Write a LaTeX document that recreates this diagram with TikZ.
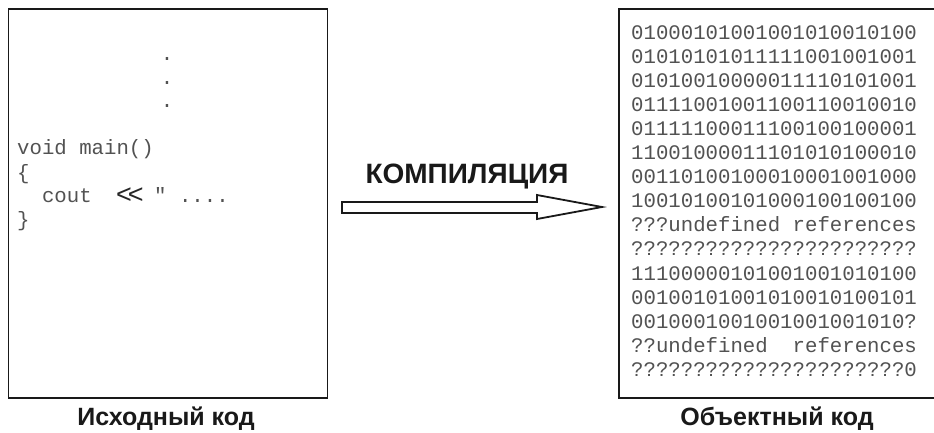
\documentclass[tikz,border=0pt]{standalone}
\usepackage{fontspec}
\usetikzlibrary{calc}
\setmainfont{Liberation Sans}
\newfontfamily\codefont{Liberation Mono}
\begin{document}
\begin{tikzpicture}[x=1pt,y=-1pt,
  panel/.style={draw=black!90, line width=1.8pt, anchor=north west, inner sep=0pt},
  code/.style={anchor=base west, inner sep=0pt, text=black!68,
    font=\codefont\fontsize{20.7}{24}\selectfont},
  caption/.style={anchor=base, inner sep=0pt, text=black!90,
    font=\bfseries\fontsize{25}{25}\selectfont},
  blockarrow/.style={draw=black!90, line width=1.8pt, fill=white, line join=miter}]
\useasboundingbox (0,0) rectangle (934,432);
\clip (0,0) rectangle (934,432);

% source code panel
\node[panel, minimum width=319pt, minimum height=389pt] (src) at (7.5,8) {};
\node[code, anchor=base] (d1) at (167,60) {.};
\node[code, anchor=base] (d2) at (167,84) {.};
\node[code, anchor=base] (d3) at (167,107) {.};
\node[code] (s1) at (17,154) {void main()};
\node[code] (s2) at (17,179) {\{};
\node[code] (s3) at (17,202) {\ \ cout};
\node[anchor=base west, inner sep=0pt, text=black!85,
  font=\fontsize{27}{27}\selectfont] (shl) at (116,203) {<\kern-4pt<};
\node[code] (s4) at (154,202) {" ....};
\node[code] (s5) at (17,226) {\}};
\node[caption] (srccap) at (166,425) {Исходный код};

% object code panel (runs past the right edge)
\node[panel, minimum width=340pt, minimum height=389pt] (obj) at (618,8) {};
\foreach \t [count=\i from 0] in {
  01000101001001010010100,
  01010101011111001001001,
  01010010000011110101001,
  01111001001100110010010,
  01111100011100100100001,
  11001000011101010100010,
  00110100100010001001000,
  10010100101000100100100,
  ???undefined references,
  ???????????????????????,
  11100000101001001010100,
  00100101001010010100101,
  0010001001001001001010?,
  ??undefined\ \ references,
  ??????????????????????0}
  \node[code] (o\i) at (631,{39+24.1*\i}) {\t};
\node[caption] (objcap) at (777,425) {Объектный код};

% compilation arrow
\coordinate (tail) at (342,207.5);
\coordinate (tip) at (602,207);
\draw[blockarrow] ($(tail)+(0,-5.5)$) -- (537,202) -- (537,195) -- (tip)
  -- (537,219) -- (537,213) -- ($(tail)+(0,5.5)$) -- cycle;
\node[caption, font=\bfseries\fontsize{28}{28}\selectfont] (comp) at (467,183) {КОМПИЛЯЦИЯ};
\end{tikzpicture}
\end{document}
